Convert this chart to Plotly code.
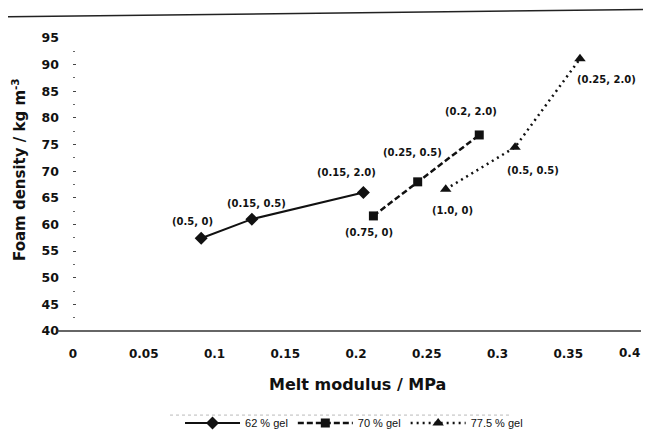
import plotly.graph_objects as go

# ---- data ----
series_names = ["62 % gel", "70 % gel", "77.5 % gel"]
x_62 = [0.0906, 0.1264, 0.2052]
y_62 = [57.4, 61.0, 66.0]
x_70 = [0.2123, 0.2436, 0.2871]
y_70 = [61.6, 68.0, 76.8]
x_775 = [0.2634, 0.3124, 0.3583]
y_775 = [66.6, 74.5, 91.1]
labels_62 = ["(0.5, 0)", "(0.15, 0.5)", "(0.15, 2.0)"]
labels_70 = ["(0.75, 0)", "(0.25, 0.5)", "(0.2, 2.0)"]
labels_775 = ["(1.0, 0)", "(0.5, 0.5)", "(0.25, 2.0)"]
x_ticks = [0, 0.05, 0.1, 0.15, 0.2, 0.25, 0.3, 0.35, 0.4]
x_ticktext = ["0", "0.05", "0.1", "0.15", "0.2", "0.25", "0.3", "0.35", "0.4"]
y_ticks = [40, 45, 50, 55, 60, 65, 70, 75, 80, 85, 90, 95]

# label offsets in pixels (dx right, dy up)
off_62 = [(-9, 17), (5, 16), (-17, 20)]
off_70 = [(-4, -17), (-5, 29), (-8, 23)]
off_775 = [(7, -21), (18, -23), (27, -21)]

BOLD = dict(family="DejaVu Sans", size=10, color="#111", weight="bold")
TICKFONT = dict(family="DejaVu Sans", size=12, color="#111", weight="bold")

fig = go.Figure()
fig.add_trace(go.Scatter(x=x_62, y=y_62, mode="lines+markers", name=series_names[0],
                         line=dict(color="#111", width=2),
                         marker=dict(symbol="diamond", size=10, color="#111")))
fig.add_trace(go.Scatter(x=x_70, y=y_70, mode="lines+markers", name=series_names[1],
                         line=dict(color="#111", width=2.5, dash="6px,3px"),
                         marker=dict(symbol="square", size=9, color="#111")))
fig.add_trace(go.Scatter(x=x_775, y=y_775, mode="lines+markers", name=series_names[2],
                         line=dict(color="#111", width=2.5, dash="2px,4px"),
                         marker=dict(symbol="triangle-up", size=10, color="#111")))

annotations = []
for xs, ys, labs, offs in [(x_62, y_62, labels_62, off_62),
                           (x_70, y_70, labels_70, off_70),
                           (x_775, y_775, labels_775, off_775)]:
    for xv, yv, t, (dx, dy) in zip(xs, ys, labs, offs):
        annotations.append(dict(x=xv, y=yv, xref="x", yref="y", text=t, showarrow=False,
                                xshift=dx, yshift=dy, font=BOLD,
                                xanchor="center", yanchor="middle"))

# last x tick label, kept inside the visible page edge
annotations.append(dict(x=x_ticks[-1], y=0, xref="x", yref="paper", text=x_ticktext[-1],
                        showarrow=False, xanchor="right", yanchor="middle",
                        xshift=3, yshift=-22, font=TICKFONT))

# axis titles
annotations.append(dict(x=-0.0954, y=0.5495, xref="paper", yref="paper",
                        text="Foam density / kg m<sup>-3</sup>", textangle=-90,
                        showarrow=False, xanchor="center", yanchor="middle",
                        font=dict(family="DejaVu Sans", size=15, color="#111", weight="bold")))
annotations.append(dict(x=0.502, y=-0.184, xref="paper", yref="paper",
                        text="Melt modulus / MPa", showarrow=False,
                        xanchor="center", yanchor="middle",
                        font=dict(family="DejaVu Sans", size=16, color="#111", weight="bold")))

shapes = [
    # x axis line (extends slightly beyond the plot area)
    dict(type="line", xref="paper", yref="paper", x0=-0.0283, x1=1.0035, y0=0, y1=0,
         line=dict(color="#333", width=1.5)),
    # scanned page border at top
    dict(type="line", xref="paper", yref="paper", x0=-0.13, x1=1.03, y0=1.072, y1=1.098,
         line=dict(color="#222", width=1.5)),
    # faint scan line above legend
    dict(type="line", xref="paper", yref="paper", x0=0.1714, x1=0.772, y0=-0.287, y1=-0.287,
         line=dict(color="#bbb", width=1, dash="dot")),
]

# the page places the figure 8px from the top-left corner (body margin),
# so the figure is 643x422 to fit the 651x438 window without scrollbars
fig.update_layout(
    width=643, height=422,
    margin=dict(l=65, r=12, t=30, b=99, autoexpand=False),
    paper_bgcolor="white", plot_bgcolor="white",
    showlegend=True,
    legend=dict(orientation="h", x=0.4965, y=-0.314, xanchor="center", yanchor="middle",
                itemwidth=55, font=dict(family="Liberation Sans", size=11, color="#111"),
                tracegroupgap=0, bgcolor="rgba(0,0,0,0)"),
    annotations=annotations,
    shapes=shapes,
)
fig.update_xaxes(range=[0, 0.4], tickvals=x_ticks[:-1], ticktext=x_ticktext[:-1],
                 showgrid=False, zeroline=False, showline=False, ticks="",
                 ticklabelstandoff=14, automargin=False, ticklabeloverflow="allow",
                 tickfont=TICKFONT)
fig.update_yaxes(range=[40, 95], tickvals=y_ticks, showgrid=False, zeroline=False,
                 showline=False, ticks="inside", ticklen=3, tickwidth=1, tickcolor="#444",
                 ticklabelstandoff=13, automargin=False, ticklabeloverflow="allow",
                 minor=dict(ticks="inside", ticklen=2, tickcolor="#666", dtick=2.5, tick0=40),
                 tickfont=dict(family="DejaVu Sans", size=12.5, color="#111", weight="bold"))

fig.write_html("out.html")
